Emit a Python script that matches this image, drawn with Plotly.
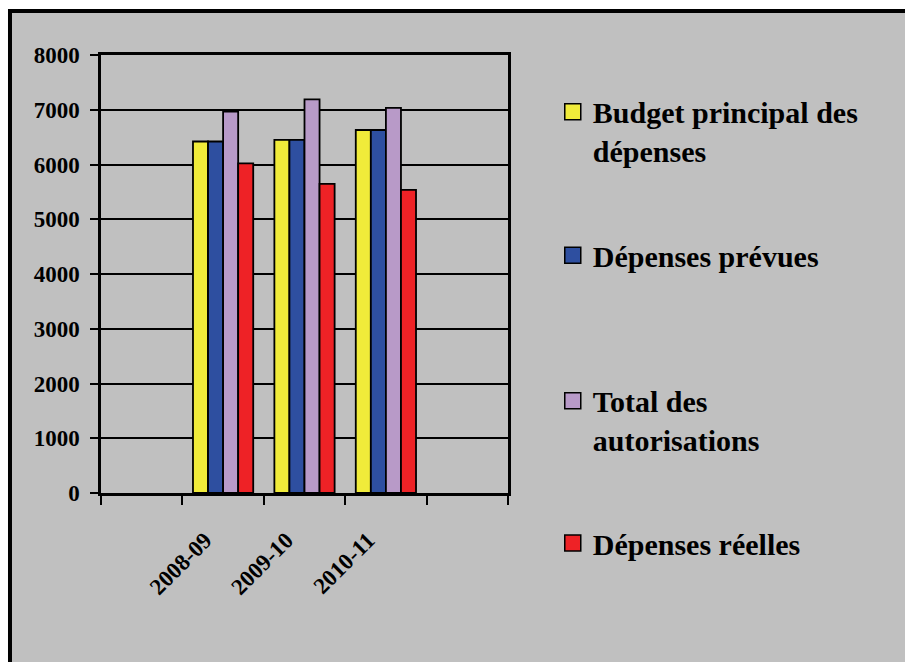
import plotly.graph_objects as go

# Fiscal years (empty slots on either side of the axis)
years = ["2008-09", "2009-10", "2010-11"]
year_pos = [1, 2, 3]

series_names = [
    "Budget principal des<br>dépenses",
    "Dépenses prévues",
    "Total des<br>autorisations",
    "Dépenses réelles",
]
budget_principal = [6420, 6450, 6630]
depenses_prevues = [6420, 6450, 6630]
total_autorisations = [6965, 7190, 7035]
depenses_reelles = [6020, 5645, 5535]
series_values = [budget_principal, depenses_prevues, total_autorisations, depenses_reelles]
colors = ["#F0EB3A", "#2E4FA0", "#B89AC8", "#EE2226"]

FONT = "Liberation Serif"
GREY = "#C0C0C0"

fig = go.Figure()

legend_ids = ["legend", "legend2", "legend3", "legend4"]
for name, vals, col, lg in zip(series_names, series_values, colors, legend_ids):
    fig.add_trace(go.Bar(
        x=year_pos, y=vals, name=name, legendgroup=name,
        marker=dict(color=col, line=dict(color="black", width=1.8)),
        showlegend=False,
    ))
    # legend swatch (larger than the default bar swatch)
    fig.add_trace(go.Scatter(
        x=[None], y=[None], mode="markers",
        name="<b>%s</b>" % name.replace("<br>", "</b><br><b>"),
        legendgroup=name,
        marker=dict(symbol="square", size=16, color=col,
                    line=dict(color="black", width=1.5)),
        legend=lg, showlegend=True, hoverinfo="skip",
    ))

legend_font = dict(family=FONT, size=30, color="black")
legend_y = [0.826, 0.543, 0.166, -0.114]
legend_valign = ["top", "middle", "top", "middle"]
legend_layout = {}
for lg, y, va in zip(legend_ids, legend_y, legend_valign):
    legend_layout[lg] = dict(
        x=1.11, xanchor="left", y=y, yanchor="middle",
        font=legend_font, bgcolor="rgba(0,0,0,0)", borderwidth=0,
        itemsizing="trace", valign=va,
    )

fig.update_layout(
    width=905, height=662,
    margin=dict(l=101, r=397, t=55, b=169),
    paper_bgcolor="white",
    plot_bgcolor=GREY,
    barmode="group", bargap=0.26, bargroupgap=0,
    font=dict(family=FONT, size=23, color="black"),
    xaxis=dict(
        range=[-0.5, 4.5], tickmode="array", tickvals=year_pos,
        ticktext=["<b>%s</b>" % y for y in years],
        tickangle=-45, ticks="", showgrid=False, zeroline=False,
        showline=True, linecolor="black", linewidth=2.5, mirror=True,
        ticklabelstandoff=22, ticklabelshift=-18,
        minor=dict(tickmode="linear", tick0=-0.5, dtick=1, ticks="outside",
                   ticklen=9, tickwidth=2, tickcolor="black", showgrid=False),
    ),
    yaxis=dict(
        range=[0, 8000], dtick=1000, tick0=0, ticks="outside", ticklen=8,
        tickwidth=2, tickcolor="black", showgrid=True, gridcolor="black",
        gridwidth=2, zeroline=False, showline=True, linecolor="black",
        linewidth=2.5, mirror=True, ticklabelstandoff=6,
        tickprefix="<b>", ticksuffix="</b>",
    ),
    shapes=[dict(
        type="rect", xref="paper", yref="paper", layer="below",
        x0=-0.2236, y0=-2, x1=3, y1=1.1005,
        fillcolor=GREY, line=dict(color="black", width=4),
    )],
    **legend_layout,
)

fig.write_html("out.html")
